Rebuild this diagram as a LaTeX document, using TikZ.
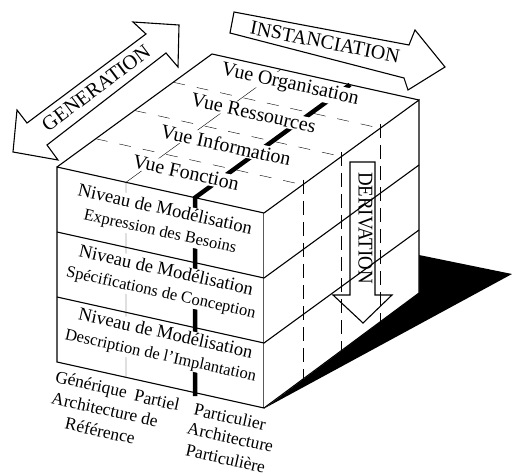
\documentclass[tikz,border=0pt]{standalone}
\usepackage{fontspec}
\setmainfont{Liberation Serif}
\usepackage{tikz}

\begin{document}
\begin{tikzpicture}[x=1pt,y=-1pt]
	\tikzstyle{every node}=[inner sep=1pt]
	\tikzstyle{arete}=[line width=1.1pt]
	\tikzstyle{fleche}=[line width=1.1pt,line join=miter]
	\tikzstyle{vue}=[fill=white,rotate=-12.5,font=\fontsize{20}{24}\selectfont]
	\tikzstyle{niveau}=[fill=white,rotate=-12.5,align=center,inner sep=0.5pt,font=\fontsize{16.5}{22}\selectfont]
	\tikzstyle{legende}=[rotate=-12.5,align=center,font=\fontsize{17.5}{22}\selectfont]
	\useasboundingbox (0,0) rectangle (512,476);
	% ombre
	\fill (265,408) -- (512,274) -- (419,255) -- (419,293) -- cycle;
	% faces du cube
	\draw[arete,fill=white] (57,167) -- (264,213) -- (264,408) -- (57,362) -- cycle;
	\draw[arete,fill=white] (264,213) -- (419,100) -- (419,293) -- (264,408);
	\draw[arete] (57,167) -- (212,54) -- (419,100);
	% vues (dessus et cote)
	\draw[dash pattern=on 12pt off 12pt] (95.75,138.75) -- (302.75,184.75);
	\draw[dash pattern=on 12pt off 12pt] (134.5,110.5) -- (341.5,156.5);
	\draw[dash pattern=on 12pt off 12pt] (173.25,82.25) -- (380.25,128.25);
	\draw[dash pattern=on 14pt off 7pt] (302.75,180) -- (302.75,379.75);
	\draw[dash pattern=on 14pt off 7pt] (341.5,152) -- (341.5,351.5);
	\draw[dash pattern=on 14pt off 7pt] (380.25,124) -- (380.25,323.25);
	% niveaux
	\draw[arete] (57,232) -- (264,278) -- (419,165);
	\draw[arete] (57,297) -- (264,343) -- (419,230);
	% genericite
	\draw (281,69.3) -- (126,182.3) -- (126,377.3);
	\draw[line width=4.5pt] (350,84.7) -- (195,197.7) -- (195,396);
	% textes des vues
	\node[vue] (fonction) at (186,172.5) {Vue Fonction};
	\node[vue] (information) at (226,145) {Vue Information};
	\node[vue] (ressources) at (253.5,113) {Vue Ressources};
	\node[vue] (organisation) at (290,85) {Vue Organisation};
	% textes des niveaux
	\node[niveau] (besoins) at (162.5,221) {{\fontsize{18.5}{22}\selectfont Niveau de Modélisation}\\Expression des Besoins};
	\node[niveau] (conception) at (163.5,282) {{\fontsize{18.5}{22}\selectfont Niveau de Modélisation}\\Spécifications de Conception};
	\node[niveau] (implantation) at (163,345) {{\fontsize{18.5}{22}\selectfont Niveau de Modélisation}\\Description de l'Implantation};
	% textes de genericite
	\node[legende] (generique) at (91,386) {Générique};
	\node[legende] (partiel) at (157,400) {Partiel};
	\node[legende] (particulier) at (230,417) {Particulier};
	\node[legende] (reference) at (102.5,420) {Architecture de\\Référence};
	\node[legende] (particuliere) at (228,448) {Architecture\\Particulière};
	% fleches
	\draw[fleche] (13,152) -- (58,160) -- (47,145) -- (166,53) -- (178,67) -- (179,25) -- (133,22) -- (146,34) -- (27,123) -- (17,110) -- cycle;
	\node[rotate=37,font=\fontsize{20.5}{24}\selectfont] (generation) at (96,88) {GENERATION};
	\draw[fleche] (234,12) -- (409,45) -- (415,30) -- (445,67) -- (408,90) -- (404,78) -- (230,33) -- cycle;
	\node[rotate=-11,font=\fontsize{20}{24}\selectfont] (instanciation) at (325,42) {INSTANCIATION};
	\draw[fleche] (350,162) -- (375,162) -- (375,295) -- (392,295) -- (363,323) -- (333,295) -- (350,295) -- cycle;
	\node[rotate=-90,xscale=0.9,font=\fontsize{21}{24}\selectfont] (derivation) at (365.5,228) {DERIVATION};
\end{tikzpicture}
\end{document}
